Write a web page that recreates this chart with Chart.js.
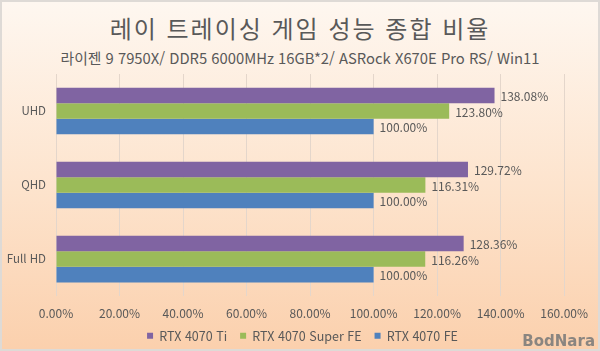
<!DOCTYPE html>
<html lang="ko">
<head>
<meta charset="utf-8">
<script src="https://cdn.jsdelivr.net/npm/chart.js@4"></script>
<style>
    html, body { margin: 0; padding: 0; }
    #wrap {
        position: relative;
        width: 600px;
        height: 351px;
        box-sizing: border-box;
        border: 2px solid #dedad6;
        background: linear-gradient(to bottom, #fef7f0 0%, #fde3cc 55%, #fbd0ad 100%);
        font-family: "Noto Sans CJK KR", "Noto Sans", sans-serif;
        color: #595959;
        overflow: hidden;
    }
    #title {
        position: absolute; left: 0; right: 0; top: 8px;
        text-align: center; font-size: 24px; letter-spacing: 2px;
    }
    #subtitle {
        position: absolute; left: 0; right: 0; top: 45px;
        text-align: center; font-size: 14.8px;
    }
    #mark {
        position: absolute; right: 3px; bottom: -1px;
        font-family: "DejaVu Sans", sans-serif; font-weight: bold;
        font-size: 15px; color: #8a8580;
    }
    #chart { position: absolute; left: 0; top: 0; }
</style>
</head>
<body>
<div id="wrap">
    <div id="title">레이 트레이싱 게임 성능 종합 비율</div>
    <div id="subtitle">라이젠 9 7950X/ DDR5 6000MHz 16GB*2/ ASRock X670E Pro RS/ Win11</div>
    <canvas id="chart" width="596" height="347"></canvas>
    <div id="mark">BodNara</div>
</div>
<script>
// Data
const categories = ['UHD', 'QHD', 'Full HD'];
const seriesNames = ['RTX 4070 Ti', 'RTX 4070 Super FE', 'RTX 4070 FE'];
const rtx4070Ti = [138.08, 129.72, 128.36];
const rtx4070SuperFE = [123.80, 116.31, 116.26];
const rtx4070FE = [100.00, 100.00, 100.00];
const seriesColors = ['#8064a2', '#9bbb59', '#4f81bd'];

const fontFamily = '"Noto Sans CJK KR", "Noto Sans", sans-serif';
const textColor = '#595959';

// Value labels at the end of each bar
const valueLabels = {
    id: 'valueLabels',
    afterDatasetsDraw(chart) {
        const ctx = chart.ctx;
        ctx.save();
        ctx.font = '12px ' + fontFamily;
        ctx.fillStyle = textColor;
        ctx.textAlign = 'left';
        ctx.textBaseline = 'middle';
        chart.data.datasets.forEach((ds, i) => {
            chart.getDatasetMeta(i).data.forEach((bar, j) => {
                ctx.fillText(ds.data[j].toFixed(2) + '%', bar.x + 6, bar.y + 1);
            });
        });
        ctx.restore();
    }
};

// legend is centred on the whole picture, not on the padded box
const legendShift = {
    id: 'legendShift',
    afterLayout(chart) {
        const lg = chart.legend;
        lg.left += 19; lg.right += 19;
        lg.top -= 14; lg.bottom -= 14;
    }
};

new Chart(document.getElementById('chart'), {
    type: 'bar',
    data: {
        labels: categories,
        datasets: [
            { label: seriesNames[0], data: rtx4070Ti, backgroundColor: seriesColors[0] },
            { label: seriesNames[1], data: rtx4070SuperFE, backgroundColor: seriesColors[1] },
            { label: seriesNames[2], data: rtx4070FE, backgroundColor: seriesColors[2] }
        ]
    },
    options: {
        indexAxis: 'y',
        responsive: false,
        animation: false,
        datasets: {
            bar: { barPercentage: 1, categoryPercentage: 0.63 }
        },
        layout: { padding: { top: 72, right: 33, left: 0, bottom: -17 } },
        plugins: {
            legend: {
                position: 'bottom',
                labels: {
                    boxWidth: 6,
                    boxHeight: 6,
                    padding: 13,
                    color: textColor,
                    font: { family: fontFamily, size: 12.5 }
                }
            },
            tooltip: { enabled: false }
        },
        scales: {
            x: {
                min: 0,
                max: 160,
                ticks: {
                    stepSize: 20,
                    padding: 10,
                    color: textColor,
                    font: { family: fontFamily, size: 12 },
                    callback: v => v.toFixed(2) + '%'
                },
                grid: { color: '#e4d6cb', drawTicks: false },
                border: { display: false }
            },
            y: {
                afterFit: scale => { scale.width = 54; },
                ticks: {
                    color: textColor,
                    padding: 2,
                    font: { family: fontFamily, size: 11.5 }
                },
                grid: { display: false },
                border: { display: false }
            }
        }
    },
    plugins: [valueLabels, legendShift]
});
</script>
</body>
</html>
